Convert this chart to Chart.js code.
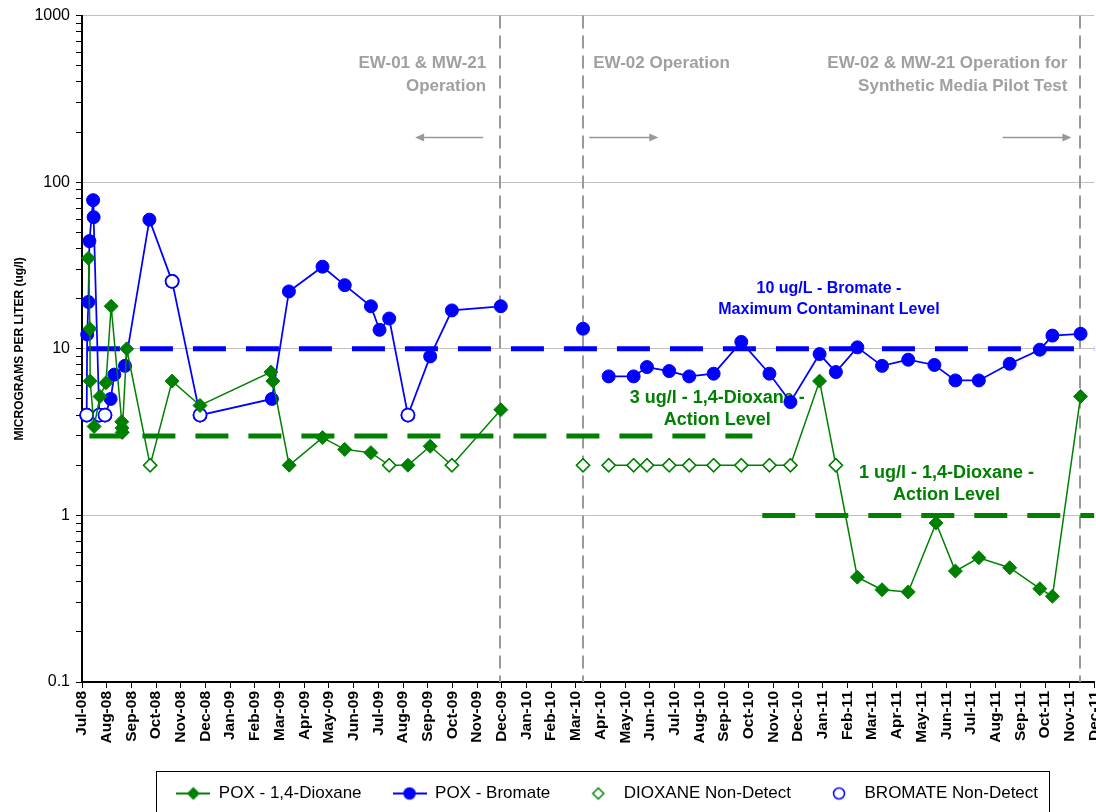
<!DOCTYPE html>
<html>
<head>
<meta charset="utf-8">
<script src="https://cdn.jsdelivr.net/npm/chart.js@4.4.1/dist/chart.umd.min.js"></script>
<style>
  html, body { margin: 0; padding: 0; background: #fff; overflow: hidden; }
  #wrap { width: 1096px; height: 812px; overflow: hidden; }
  canvas { display: block; }
</style>
</head>
<body>
<div id="wrap"><canvas id="myChart" width="1116" height="812"></canvas></div>
<script>
// month axis: 0 = Jul-08 ... 41 = Dec-11
const monthLabels = [
  'Jul-08', 'Aug-08', 'Sep-08', 'Oct-08', 'Nov-08', 'Dec-08',
  'Jan-09', 'Feb-09', 'Mar-09', 'Apr-09', 'May-09', 'Jun-09', 'Jul-09', 'Aug-09', 'Sep-09', 'Oct-09', 'Nov-09', 'Dec-09',
  'Jan-10', 'Feb-10', 'Mar-10', 'Apr-10', 'May-10', 'Jun-10', 'Jul-10', 'Aug-10', 'Sep-10', 'Oct-10', 'Nov-10', 'Dec-10',
  'Jan-11', 'Feb-11', 'Mar-11', 'Apr-11', 'May-11', 'Jun-11', 'Jul-11', 'Aug-11', 'Sep-11', 'Oct-11', 'Nov-11', 'Dec-11'
];
const yDecades = [0.1, 1, 10, 100, 1000];

// POX - 1,4-Dioxane (null = break in the line)
const dioxaneMonths = [0.26, 0.32, 0.33, 0.49, 0.73, 0.97, 1.18, 1.61, 1.62, 1.63, 1.81, 2.76, 3.65, 4.78,
  7.65, 7.73, 8.39, 9.74, 10.64, 11.70, 12.44, 13.20, 14.10, 14.98, 16.96, 18.6, 20.29, 20.8,
  21.33, 22.34, 22.88, 23.78, 24.59, 25.58, 26.70, 27.84, 28.69, 29.87, 30.53, 31.40, 32.40, 33.46,
  34.59, 35.37, 36.32, 37.57, 38.79, 39.30, 40.44];
const dioxaneValues = [35, 13.2, 6.4, 3.42, 5.18, 6.25, 18, 3.65, 3.35, 3.15, 10, 2, 6.4, 4.57,
  7.25, 6.4, 2.0, 2.93, 2.49, 2.38, 2, 2, 2.6, 2, 4.31, null, 2, null,
  2, 2, 2, 2, 2, 2, 2, 2, 2, 6.4, 2, 0.426, 0.358, 0.347,
  0.90, 0.463, 0.557, 0.485, 0.363, 0.327, 5.18];
const dioxaneNonDetect = [0, 0, 0, 0, 0, 0, 0, 0, 0, 0, 0, 1, 0, 0,
  0, 0, 0, 0, 0, 0, 1, 0, 0, 1, 0, 0, 1, 0,
  1, 1, 1, 1, 1, 1, 1, 1, 1, 0, 1, 0, 0, 0,
  0, 0, 0, 0, 0, 0, 0];

// POX - Bromate
const bromateMonths = [0.19, 0.21, 0.26, 0.30, 0.45, 0.47, 0.70, 0.93, 1.16, 1.31, 1.74, 2.73, 3.65, 4.78,
  7.69, 8.38, 9.74, 10.64, 11.70, 12.05, 12.44, 13.20, 14.10, 14.98, 16.96, 18.6, 20.29, 20.8,
  21.33, 22.34, 22.88, 23.78, 24.59, 25.58, 26.70, 27.84, 28.69, 29.87, 30.53, 31.40, 32.40, 33.46,
  34.52, 35.37, 36.32, 37.57, 38.79, 39.30, 40.44];
const bromateValues = [4, 12.2, 19.1, 44.3, 78, 61.7, 4, 4, 5, 7, 7.9, 59.6, 25.4, 4,
  5.0, 22.1, 31.1, 24.1, 18, 13, 15.2, 4, 9.0, 17, 18, null, 13.2, null,
  6.83, 6.83, 7.77, 7.35, 6.83, 7.09, 11, 7.09, 4.79, 9.3, 7.25, 10.2, 7.9, 8.6,
  8.0, 6.46, 6.46, 8.13, 9.88, 12.0, 12.3];
const bromateNonDetect = [1, 0, 0, 0, 0, 0, 1, 1, 0, 0, 0, 0, 1, 1,
  0, 0, 0, 0, 0, 0, 0, 1, 0, 0, 0, 0, 0, 0,
  0, 0, 0, 0, 0, 0, 0, 0, 0, 0, 0, 0, 0, 0,
  0, 0, 0, 0, 0, 0, 0];

// regulatory levels: value and month span
const bromateMcl = 10, bromateMclSpan = [0.2, 41];
const dioxaneAction3 = 3, dioxaneAction3Span = [0.3, 27.15];
const dioxaneAction1 = 1, dioxaneAction1Span = [27.55, 41];

// system changes (vertical dashed lines)
const eventMonths = [16.93, 20.29, 40.42];

const GREEN = '#008000';
const BLUE = '#0000ff';
const GRAY = '#999999';
const FONT = "'Liberation Sans', Arial, sans-serif";

const toPoints = (xs, ys) => xs.map((m, i) => ({x: m, y: ys[i]}));
const onlyNd = (xs, ys, flags) => xs.map((m, i) => ({x: m, y: flags[i] ? ys[i] : null})).filter(p => p.y !== null);
const levelLine = (v, span) => [{x: span[0], y: v}, {x: span[1], y: v}];

// text notes placed in data coordinates
const notes = [
  {lines: ['EW-01 & MW-21', 'Operation'], month: 16.37, value: 520, align: 'right', color: '#a0a0a0', size: 17, lh: 23},
  {lines: ['EW-02 Operation'], month: 20.70, value: 520, align: 'left', color: '#a0a0a0', size: 17, lh: 23},
  {lines: ['EW-02 & MW-21 Operation for', 'Synthetic Media Pilot Test'], month: 39.91, value: 520, align: 'right', color: '#a0a0a0', size: 17, lh: 23},
  {lines: ['10 ug/L - Bromate -', 'Maximum Contaminant Level'], month: 30.25, value: 23.0, align: 'center', color: BLUE, size: 16, lh: 21},
  {lines: ['3 ug/l - 1,4-Dioxane -', 'Action Level'], month: 25.73, value: 5.09, align: 'center', color: GREEN, size: 18, lh: 22},
  {lines: ['1 ug/l - 1,4-Dioxane -', 'Action Level'], month: 35.01, value: 1.79, align: 'center', color: GREEN, size: 18, lh: 21.5}
];
const arrows = [
  {from: 16.25, to: 13.49, value: 188},
  {from: 20.54, to: 23.34, value: 188},
  {from: 37.28, to: 40.07, value: 188}
];

function makeIcon(color, shape, filled, withLine) {
  const c = document.createElement('canvas');
  c.width = 34; c.height = 16;
  const g = c.getContext('2d');
  g.strokeStyle = color; g.fillStyle = filled ? color : '#fff';
  if (withLine) {
    g.lineWidth = 2;
    g.beginPath(); g.moveTo(0, 8); g.lineTo(34, 8); g.stroke();
  }
  g.lineWidth = 1.5;
  g.beginPath();
  if (shape === 'diamond') {
    g.moveTo(17, 2.5); g.lineTo(22.5, 8); g.lineTo(17, 13.5); g.lineTo(11.5, 8); g.closePath();
  } else {
    g.arc(17, 8, 5.5, 0, Math.PI * 2);
  }
  g.fill(); g.stroke();
  return c;
}

const legendEntries = [
  {text: 'POX - 1,4-Dioxane', icon: makeIcon(GREEN, 'diamond', true, true)},
  {text: 'POX - Bromate', icon: makeIcon(BLUE, 'circle', true, true)},
  {text: 'DIOXANE Non-Detect', icon: makeIcon(GREEN, 'diamond', false, false)},
  {text: 'BROMATE Non-Detect', icon: makeIcon(BLUE, 'circle', false, false)}
];

const overlay = {
  id: 'overlay',
  afterLayout(chart) {
    // nudge the legend row to the right, as in the original
    chart.legend.left += 19;
    chart.legend.right += 19;
  },
  beforeDatasetsDraw(chart) {
    const {ctx, chartArea, scales: {x, y}} = chart;
    ctx.save();
    ctx.strokeStyle = GRAY;
    ctx.lineWidth = 2;
    ctx.setLineDash([13, 7]);
    eventMonths.forEach(m => {
      const px = Math.round(x.getPixelForValue(m));
      ctx.beginPath(); ctx.moveTo(px, chartArea.top); ctx.lineTo(px, chartArea.bottom); ctx.stroke();
    });
    ctx.setLineDash([]);

    ctx.lineWidth = 1.5;
    ctx.fillStyle = GRAY;
    arrows.forEach(a => {
      const x1 = x.getPixelForValue(a.from), x2 = x.getPixelForValue(a.to);
      const py = Math.round(y.getPixelForValue(a.value)) + 0.5;
      const dir = Math.sign(x2 - x1);
      ctx.beginPath(); ctx.moveTo(x1, py); ctx.lineTo(x2 - dir * 7, py); ctx.stroke();
      ctx.beginPath(); ctx.moveTo(x2, py); ctx.lineTo(x2 - dir * 9, py - 4); ctx.lineTo(x2 - dir * 9, py + 4); ctx.closePath(); ctx.fill();
    });

    ctx.textBaseline = 'middle';
    notes.forEach(n => {
      ctx.font = `bold ${n.size}px ${FONT}`;
      ctx.fillStyle = n.color;
      ctx.textAlign = n.align;
      const px = x.getPixelForValue(n.month);
      const py = y.getPixelForValue(n.value);
      n.lines.forEach((t, i) => ctx.fillText(t, px, py + i * n.lh));
    });
    ctx.restore();
  },
  afterDraw(chart) {
    const boxes = chart.legend.legendHitBoxes;
    if (!boxes || !boxes.length) return;
    const first = boxes[0], last = boxes[boxes.length - 1];
    const {ctx} = chart;
    ctx.save();
    ctx.strokeStyle = '#000';
    ctx.lineWidth = 1;
    const left = Math.round(first.left - 20) + 0.5;
    const right = Math.round(last.left + last.width + 11) + 0.5;
    const top = Math.round(first.top - 14) + 0.5;
    ctx.strokeRect(left, top, right - left, chart.height + 5 - top);
    ctx.restore();
  }
};

Chart.defaults.font.family = FONT;
Chart.defaults.color = '#000';

const ctx = document.getElementById('myChart').getContext('2d');
new Chart(ctx, {
  type: 'line',
  data: {
    datasets: [
      {
        label: 'POX - 1,4-Dioxane',
        data: toPoints(dioxaneMonths, dioxaneValues),
        borderColor: GREEN,
        borderWidth: 1.5,
        pointStyle: 'rectRot',
        pointRadius: dioxaneNonDetect.map(f => f ? 6.5 : 7),
        pointBackgroundColor: dioxaneNonDetect.map(f => f ? '#fff' : GREEN),
        pointBorderColor: GREEN,
        pointBorderWidth: dioxaneNonDetect.map(f => f ? 1.5 : 1),
        clip: false,
        order: 0
      },
      {
        label: 'POX - Bromate',
        data: toPoints(bromateMonths, bromateValues),
        borderColor: BLUE,
        borderWidth: 1.75,
        pointStyle: 'circle',
        pointRadius: 6.5,
        pointBackgroundColor: bromateNonDetect.map(f => f ? '#fff' : BLUE),
        pointBorderColor: BLUE,
        pointBorderWidth: bromateNonDetect.map(f => f ? 1.75 : 1),
        clip: false,
        order: 0
      },
      {
        label: 'DIOXANE Non-Detect',
        data: onlyNd(dioxaneMonths, dioxaneValues, dioxaneNonDetect),
        showLine: false,
        pointStyle: 'rectRot',
        pointRadius: 6.5,
        pointBackgroundColor: '#fff',
        pointBorderColor: GREEN,
        pointBorderWidth: 1.5,
        clip: false,
        order: 0
      },
      {
        label: 'BROMATE Non-Detect',
        data: onlyNd(bromateMonths, bromateValues, bromateNonDetect),
        showLine: false,
        pointStyle: 'circle',
        pointRadius: 6.5,
        pointBackgroundColor: '#fff',
        pointBorderColor: BLUE,
        pointBorderWidth: 1.75,
        clip: false,
        order: 0
      },
      {
        label: 'Bromate MCL',
        data: levelLine(bromateMcl, bromateMclSpan),
        borderColor: BLUE, borderWidth: 5, borderDash: [33, 20], pointRadius: 0, order: 1
      },
      {
        label: 'Dioxane 3 ug/l',
        data: levelLine(dioxaneAction3, dioxaneAction3Span),
        borderColor: GREEN, borderWidth: 5, borderDash: [33, 20], pointRadius: 0, order: 1
      },
      {
        label: 'Dioxane 1 ug/l',
        data: levelLine(dioxaneAction1, dioxaneAction1Span),
        borderColor: GREEN, borderWidth: 5, borderDash: [33, 20], pointRadius: 0, order: 1
      }
    ]
  },
  options: {
    responsive: false,
    animation: false,
    devicePixelRatio: 1,
    layout: { padding: { top: 15, right: 0, bottom: 0, left: 0 } },
    plugins: {
      tooltip: { enabled: false },
      legend: {
        position: 'bottom',
        fullSize: false,
        labels: {
          usePointStyle: true,
          pointStyleWidth: 34,
          padding: 31,
          color: '#000',
          font: { size: 17 },
          generateLabels: () => legendEntries.map((e, i) => ({
            text: e.text, pointStyle: e.icon, hidden: false, datasetIndex: i,
            fillStyle: '#fff', strokeStyle: '#fff', lineWidth: 0
          }))
        }
      }
    },
    scales: {
      x: {
        type: 'linear',
        min: 0,
        max: 41,
        afterFit: s => { s.height = 72; },
        grid: { drawOnChartArea: false, drawTicks: true, tickLength: 6, color: '#000' },
        border: { color: '#000', width: 2 },
        ticks: {
          stepSize: 1,
          autoSkip: false,
          maxRotation: 90,
          minRotation: 90,
          padding: 3,
          font: { size: 15.5, weight: 'bold' },
          callback: v => monthLabels[v] ?? ''
        }
      },
      y: {
        type: 'logarithmic',
        min: 0.1,
        max: 1000,
        afterFit: s => { s.width = 82; },
        afterBuildTicks: s => {
          const vals = [];
          yDecades.forEach((d, i) => {
            vals.push(d);
            if (i < yDecades.length - 1) for (let k = 2; k <= 9; k++) vals.push(d * k);
          });
          s.ticks = vals.map(v => ({value: v}));
        },
        grid: {
          color: c => (c.tick && yDecades.includes(c.tick.value)) ? '#c0c0c0' : 'rgba(0,0,0,0)',
          tickColor: '#000',
          tickLength: 6,
          lineWidth: 1
        },
        border: { color: '#000', width: 2 },
        ticks: {
          autoSkip: false,
          padding: 6,
          font: { size: 16 },
          callback: v => yDecades.includes(v) ? String(v) : ''
        },
        title: {
          display: true,
          text: 'MICROGRAMS PER LITER (ug/l)',
          font: { size: 12, weight: 'bold' },
          padding: { top: 12, bottom: 0 }
        }
      }
    }
  },
  plugins: [overlay]
});
</script>
</body>
</html>
